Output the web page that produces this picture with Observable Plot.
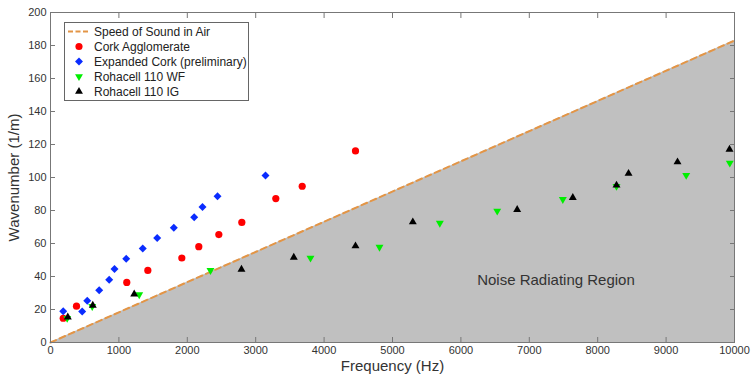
<!DOCTYPE html>
<html><head><meta charset="utf-8">
<script src="https://cdn.jsdelivr.net/npm/d3@7"></script>
<script src="https://cdn.jsdelivr.net/npm/@observablehq/plot@0.6"></script>
<style>
body{margin:0;background:#fff;font-family:"Liberation Sans",Arial,sans-serif;}
#wrap{position:relative;width:755px;height:387px;}
#legend{position:absolute;left:64px;top:22px;width:185px;height:79px;border:1px solid #666;background:#fff;box-sizing:border-box;padding-top:1px;}
.row{display:flex;align-items:center;height:15px;font-size:12px;color:#222;white-space:nowrap;}
.row svg{margin-left:2px;margin-right:3px;flex:none;}
g[aria-label="x-axis label"] text, g[aria-label="y-axis label"] text{font-size:15px;}
</style></head><body><div id="wrap"><div id="legend"></div></div>
<script>
// ---- data ----
const xTicks = [0, 1000, 2000, 3000, 4000, 5000, 6000, 7000, 8000, 9000, 10000];
const yTicks = [0, 20, 40, 60, 80, 100, 120, 140, 160, 180, 200];

const soundFreq = [0, 10000];
const soundK = [0, 183];

const corkFreq = [186, 380, 1115, 1423, 1920, 2168, 2461, 2797, 3294, 3680, 4459];
const corkK = [14.7, 22.0, 36.4, 43.7, 51.2, 58.1, 65.4, 72.8, 87.2, 94.7, 116.1];

const expFreq = [186, 463, 537, 712, 858, 936, 1107, 1349, 1560, 1803, 2101, 2222, 2442, 3143];
const expK = [19.0, 18.8, 25.3, 31.6, 38.1, 44.5, 50.8, 56.9, 63.3, 69.6, 75.9, 82.1, 88.6, 101.2];

const wfFreq = [244, 610, 1297, 2339, 3801, 4810, 5692, 6531, 7490, 8275, 9294, 9931];
const wfK = [14.7, 21.9, 29.0, 43.7, 51.2, 57.8, 72.4, 79.7, 86.8, 94.7, 101.4, 108.8];

const igFreq = [253, 618, 1224, 2792, 3557, 4459, 5297, 6823, 7636, 8275, 8451, 9167, 9927];
const igK = [15.4, 22.5, 29.3, 44.3, 51.6, 58.5, 73.0, 80.5, 87.8, 95.3, 102.4, 109.4, 117.0];

const regionLabel = ["Noise Radiating Region"];
const regionFreq = [7390];
const regionK = [38];

const legendNames = ["Speed of Sound in Air", "Cork Agglomerate", "Expanded Cork (preliminary)", "Rohacell 110 WF", "Rohacell 110 IG"];

// ---- build ----
const zip = (xs, ys) => xs.map((x, i) => ({f: x, k: ys[i]}));
const sound = zip(soundFreq, soundK);
const cork = zip(corkFreq, corkK);
const exp = zip(expFreq, expK);
const wf = zip(wfFreq, wfK);
const ig = zip(igFreq, igK);
const region = regionLabel.map((t, i) => ({t, f: regionFreq[i], k: regionK[i]}));

const lineColor = "#e39546";
const empty = () => "";
const plain = d => String(d);

const chart = Plot.plot({
  width: 755,
  height: 387,
  marginLeft: 50,
  marginRight: 21,
  marginTop: 12,
  marginBottom: 45,
  style: {fontFamily: "'Liberation Sans', Arial, sans-serif", color: "#333", background: "transparent"},
  x: {domain: [0, 10000]},
  y: {domain: [0, 200]},
  marks: [
    Plot.areaY(sound, {x: "f", y: "k", fill: "#c0c0c0"}),
    Plot.line(sound, {x: "f", y: "k", stroke: lineColor, strokeWidth: 2, strokeDasharray: "6,4"}),
    Plot.text(region, {x: "f", y: "k", text: "t", fontSize: 15, fill: "#333", textAnchor: "middle"}),
    Plot.dot(cork, {x: "f", y: "k", symbol: "circle", r: 3.6, fill: "#ff0000"}),
    Plot.dot(exp, {x: "f", y: "k", symbol: "diamond2", r: 3.6, fill: "#0a2cff"}),
    Plot.dot(wf, {x: "f", y: "k", symbol: "triangle2", r: 3.8, fill: "#00ee00", rotate: 180}),
    Plot.dot(ig, {x: "f", y: "k", symbol: "triangle2", r: 3.8, fill: "#000"}),
    Plot.axisX({ticks: xTicks, tickSize: 0, tickPadding: 4, fontSize: 11, tickFormat: plain, label: "Frequency (Hz)", labelAnchor: "center", labelArrow: "none", labelOffset: 28}),
    Plot.axisY({ticks: yTicks, tickSize: 0, tickPadding: 4, fontSize: 11, tickFormat: plain, label: "Wavenumber (1/m)", labelAnchor: "center", labelArrow: "none", labelOffset: 42}),
    Plot.axisX({anchor: "bottom", ticks: xTicks, tickSize: 5, dy: -5, tickFormat: empty, label: null, stroke: "#777"}),
    Plot.axisX({anchor: "top", ticks: xTicks, tickSize: 5, dy: 5, tickFormat: empty, label: null, stroke: "#777"}),
    Plot.axisY({anchor: "left", ticks: yTicks, tickSize: 5, dx: 5, tickFormat: empty, label: null, stroke: "#777"}),
    Plot.axisY({anchor: "right", ticks: yTicks, tickSize: 5, dx: -5, tickFormat: empty, label: null, stroke: "#777"}),
    Plot.frame({stroke: "#777"})
  ]
});
document.getElementById("wrap").prepend(chart);

// ---- legend ----
const legendStyles = [
  {type: "line", color: lineColor},
  {type: d3.symbolCircle, color: "#ff0000", size: 40, rotate: 0},
  {type: d3.symbolDiamond2, color: "#0a2cff", size: 40, rotate: 0},
  {type: d3.symbolTriangle2, color: "#00ee00", size: 45, rotate: 180},
  {type: d3.symbolTriangle2, color: "#000", size: 45, rotate: 0}
];
const legend = d3.select("#legend");
legendNames.forEach((name, i) => {
  const row = legend.append("div").attr("class", "row");
  const svg = row.append("svg").attr("width", 24).attr("height", 15);
  const s = legendStyles[i];
  if (s.type === "line") {
    svg.append("line").attr("x1", 1).attr("x2", 23).attr("y1", 7.5).attr("y2", 7.5)
      .attr("stroke", s.color).attr("stroke-width", 2).attr("stroke-dasharray", "5,2.5");
  } else {
    svg.append("path").attr("d", d3.symbol(s.type, s.size)())
      .attr("transform", `translate(12,7.5) rotate(${s.rotate})`).attr("fill", s.color);
  }
  row.append("span").text(name);
});
</script>
</body></html>
